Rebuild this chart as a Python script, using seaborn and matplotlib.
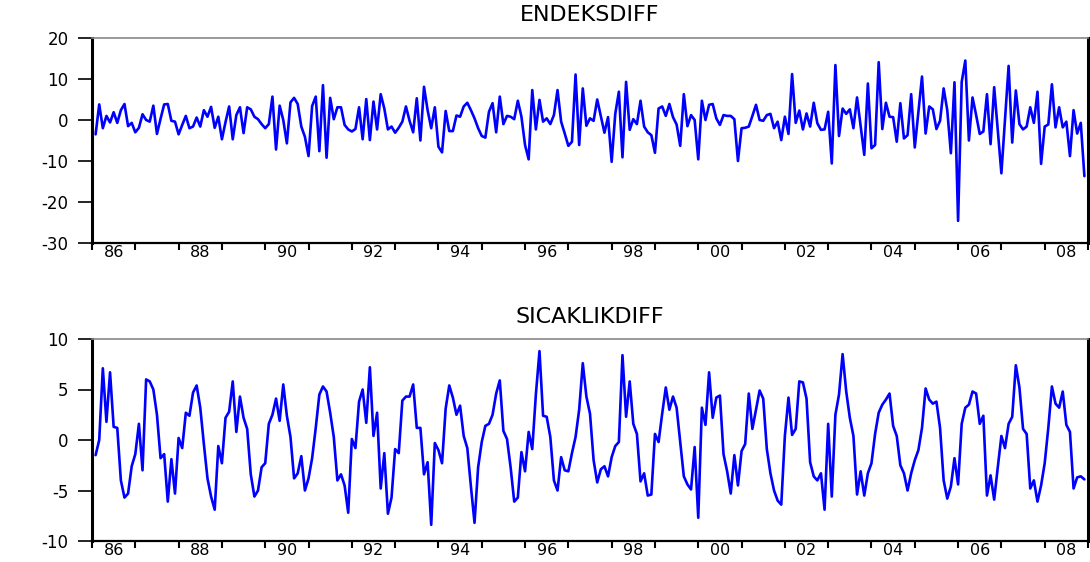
import numpy as np
import pandas as pd
import matplotlib
matplotlib.use("Agg")
import matplotlib.pyplot as plt
import seaborn as sns

# ---------------- data (monthly first differences, 1986M02 - 2008M12) ----------------
start_year = 1986
start_month = 2

endeks_diff = [
    -3.5, 3.8, -2, 1, -0.6, 1.9, -0.7, 2.4, 3.9, -1.5,
    -0.7, -3, -1.9, 1.4, 0, -0.4, 3.5, -3.4, 0.3, 3.8,
    3.9, -0.2, -0.4, -3.5, -1.2, 1, -2, -1.6, 0.6, -1.6,
    2.4, 0.8, 3.2, -1.9, 0.8, -4.7, -0.5, 3.3, -4.7, 1.2,
    3.1, -3.2, 3.1, 2.6, 0.8, 0.2, -1, -2, -1, 5.7,
    -7.2, 3.5, 0, -5.7, 4.3, 5.4,
    3.9, -1.6, -4.1, -8.8, 3.4, 5.7, -7.6, 8.5, -9.2, 5.4,
    0.2, 3.1, 3.1, -1.2, -2.3, -2.8, -2.2, 3.1, -4.7, 5.1,
    -4.9, 4.5, -2.3, 6.3, 2.8, -2.3, -1.6, -3.1, -1.9, -0.4,
    3.3, -0.2, -3, 5.3, -5, 8.1, 2.4, -2, 3.1, -6.5,
    -7.9, 2.2, -2.7, -2.7, 1.1, 0.8, 3.3, 4.2, 2.4, 0.4,
    -2, -3.9, -4.3, 2, 4.1,
    -3, 5.7, -1, 1, 0.8, 0.2, 4.7, 0.8, -6.1, -9.6,
    7.3, -2.3, 4.9, -0.4, 0.4, -1, 1.2, 7.3, -0.4, -3.3,
    -6.3, -5.3, 11.1, -6.1, 7.7, -1.4, 0.4, -0.2, 5, 1,
    -3.1, 0.7, -10.2, 1.5, 6.9, -9.1, 9.3, -2.4, 0.2, -1,
    4.7, -1.6, -3, -3.7, -8, 2.8, 3.3, 1, 3.9, 0.7,
    -1.1, -6.3, 6.3, -1.5, 1.2, 0,
    -9.6, 4.7, 0, 3.7, 3.9, 0.4, -1.2, 1.2, 1, 1,
    0.2, -10, -2, -1.9, -1.6, 1, 3.7, 0, -0.2, 1.2,
    1.5, -2, -0.4, -4.9, 0.8, -3.4, 11.2, -0.7, 2.3, -2.3,
    1.6, -1.6, 4.2, -0.8, -2.4, -2.3, 2, -10.6, 13.4, -3.9,
    2.8, 1.5, 2.6, -2, 5.5, -1.6, -8.5, 8.9, -6.9, -6.1,
    14.1, -2.2, 4.2, 0.8, 0.7,
    -5.3, 4.1, -4.5, -3.7, 6.3, -6.7, 2, 10.6, -3.3, 3.3,
    2.6, -2.2, -0.2, 7.7, 2.4, -8.1, 9.2, -24.6, 9.3, 14.5,
    -5, 5.5, 1.2, -3.4, -2.8, 6.3, -5.9, 8, -2.5, -13,
    0, 13.2, -5.5, 7.2, -1, -2.3, -1.6, 3.1, -0.7, 6.9,
    -10.7, -1.6, -1.1, 8.7, -1.8, 3.1, -1.8, -0.4, -8.8, 2.4,
    -3.3, -0.7, -13.7,
]

sicaklik_diff = [
    -1.5, 0, 7.1, 1.8, 6.7, 1.3, 1.2, -4, -5.7, -5.3,
    -2.6, -1.4, 1.6, -3, 6, 5.8, 5, 2.5, -1.8, -1.4,
    -6.1, -1.9, -5.3, 0.2, -0.8, 2.7, 2.4, 4.7, 5.4, 3.2,
    -0.4, -3.8, -5.6, -6.9, -0.6, -2.3, 2.2, 2.8, 5.8, 0.8,
    4.3, 2.2, 1.1, -3.4, -5.6, -5, -2.7, -2.3, 1.6, 2.5,
    4.1, 1.9, 5.5, 2.4, 0.3, -3.8,
    -3.3, -1.6, -5, -3.8, -1.8, 1.2, 4.5, 5.3, 4.8, 2.7,
    0.3, -4, -3.4, -4.5, -7.2, 0.1, -0.8, 3.8, 5, 1.7,
    7.2, 0.4, 2.7, -4.8, -1.3, -7.3, -5.7, -0.9, -1.3, 3.9,
    4.3, 4.3, 5.5, 1.2, 1.2, -3.4, -2.2, -8.4, -0.3, -1,
    -2.3, 3.1, 5.4, 4.2, 2.5, 3.4, 0.4, -0.8, -4.6, -8.2,
    -2.7, -0.2, 1.4, 1.6, 2.5,
    4.6, 5.9, 0.9, 0.1, -2.7, -6.1, -5.7, -1.2, -3.1, 0.8,
    -0.9, 4.5, 8.8, 2.4, 2.3, 0.3, -4, -5, -1.7, -3,
    -3.1, -1.3, 0.3, 3, 7.6, 4.3, 2.6, -2, -4.2, -2.9,
    -2.6, -3.6, -1.7, -0.6, -0.2, 8.4, 2.3, 5.8, 1.6, 0.6,
    -4.1, -3.3, -5.5, -5.4, 0.6, -0.2, 2.6, 5.2, 3, 4.3,
    3.2, -0.2, -3.6, -4.4, -4.9, -0.7,
    -7.7, 3.2, 1.5, 6.7, 2.2, 4.2, 4.4, -1.4, -3.1, -5.3,
    -1.5, -4.5, -1.1, -0.4, 4.6, 1.1, 3, 4.9, 4.1, -0.9,
    -3.3, -5, -6, -6.4, 0.4, 4.2, 0.5, 1.1, 5.8, 5.7,
    4.1, -2.2, -3.6, -4, -3.3, -6.9, 1.6, -5.6, 2.5, 4.5,
    8.5, 4.8, 2.2, 0.4, -5.4, -3.1, -5.5, -3.3, -2.3, 0.6,
    2.7, 3.5, 4, 4.6, 1.4,
    0.4, -2.5, -3.3, -5, -3.3, -2, -1, 1.2, 5.1, 4,
    3.6, 3.8, 1.2, -4, -5.8, -4.6, -1.8, -4.4, 1.6, 3.2,
    3.5, 4.8, 4.6, 1.6, 2.4, -5.5, -3.5, -5.9, -2.7, 0.4,
    -0.8, 1.6, 2.3, 7.4, 5.2, 1.1, 0.6, -4.8, -4, -6.1,
    -4.5, -2.3, 1.2, 5.3, 3.6, 3.2, 4.8, 1.5, 0.8, -4.8,
    -3.7, -3.6, -3.9,
]

titles = ["ENDEKSDIFF", "SICAKLIKDIFF"]
year_labels = ["86", "88", "90", "92", "94", "96", "98",
               "00", "02", "04", "06", "08"]
endeks_yticks = [-30, -20, -10, 0, 10, 20]
sicaklik_yticks = [-10, -5, 0, 5, 10]

# ---------------- styling ----------------
sns.set_style("white")
plt.rcParams["font.family"] = ["DejaVu Sans"]
plt.rcParams["axes.unicode_minus"] = False

n = len(endeks_diff)
t = start_year + (start_month - 1 + np.arange(n)) / 12.0
df = pd.DataFrame({"t": t, "endeks": endeks_diff, "sicaklik": sicaklik_diff})

W, H = 1090, 562
fig = plt.figure(figsize=(W / 100, H / 100), dpi=100)
ax_w = 996 / W
ax1 = fig.add_axes([92 / W, 1 - 243 / H, ax_w, 205 / H])
ax2 = fig.add_axes([92 / W, 1 - 541 / H, ax_w, 202 / H])

year_ticks = np.arange(1986, 2010)
label_pos = np.arange(1986, 2009, 2) + 0.5

panels = [
    (ax1, "endeks", (-30, 20), endeks_yticks, titles[0], 15),
    (ax2, "sicaklik", (-10, 10), sicaklik_yticks, titles[1], 317),
]

for ax, col, ylim, yt, title, ty in panels:
    sns.lineplot(data=df, x="t", y=col, ax=ax, color="#0000ff",
                 linewidth=1.9, legend=False)
    ax.set_xlim(1986, 2009)
    ax.set_ylim(*ylim)
    ax.set_xlabel("")
    ax.set_ylabel("")
    ax.set_yticks(yt)
    ax.set_yticklabels([str(v) for v in yt])
    ax.set_xticks(year_ticks)
    ax.set_xticklabels([""] * len(year_ticks))
    ax.set_xticks(label_pos, minor=True)
    ax.set_xticklabels(year_labels, minor=True)
    ax.tick_params(axis="x", which="major", direction="out", length=5,
                   width=1.5, color="black", bottom=True)
    ax.tick_params(axis="x", which="minor", length=0, pad=1.5,
                   labelsize=11.5, labelcolor="black")
    ax.tick_params(axis="y", which="major", direction="out", length=10,
                   width=1.2, color="black", left=True, pad=7,
                   labelsize=12, labelcolor="black")
    for side in ["left", "right", "bottom"]:
        ax.spines[side].set_visible(True)
        ax.spines[side].set_color("black")
    ax.spines["left"].set_linewidth(2.2)
    ax.spines["right"].set_linewidth(2.2)
    ax.spines["bottom"].set_linewidth(1.6)
    ax.spines["top"].set_visible(True)
    ax.spines["top"].set_color("#888888")
    ax.spines["top"].set_linewidth(1.2)
    ax.grid(False)
    fig.text((92 + 498) / W, 1 - ty / H, title, ha="center", va="center",
             fontsize=16, color="black")

fig.savefig("out.png", dpi=100)
